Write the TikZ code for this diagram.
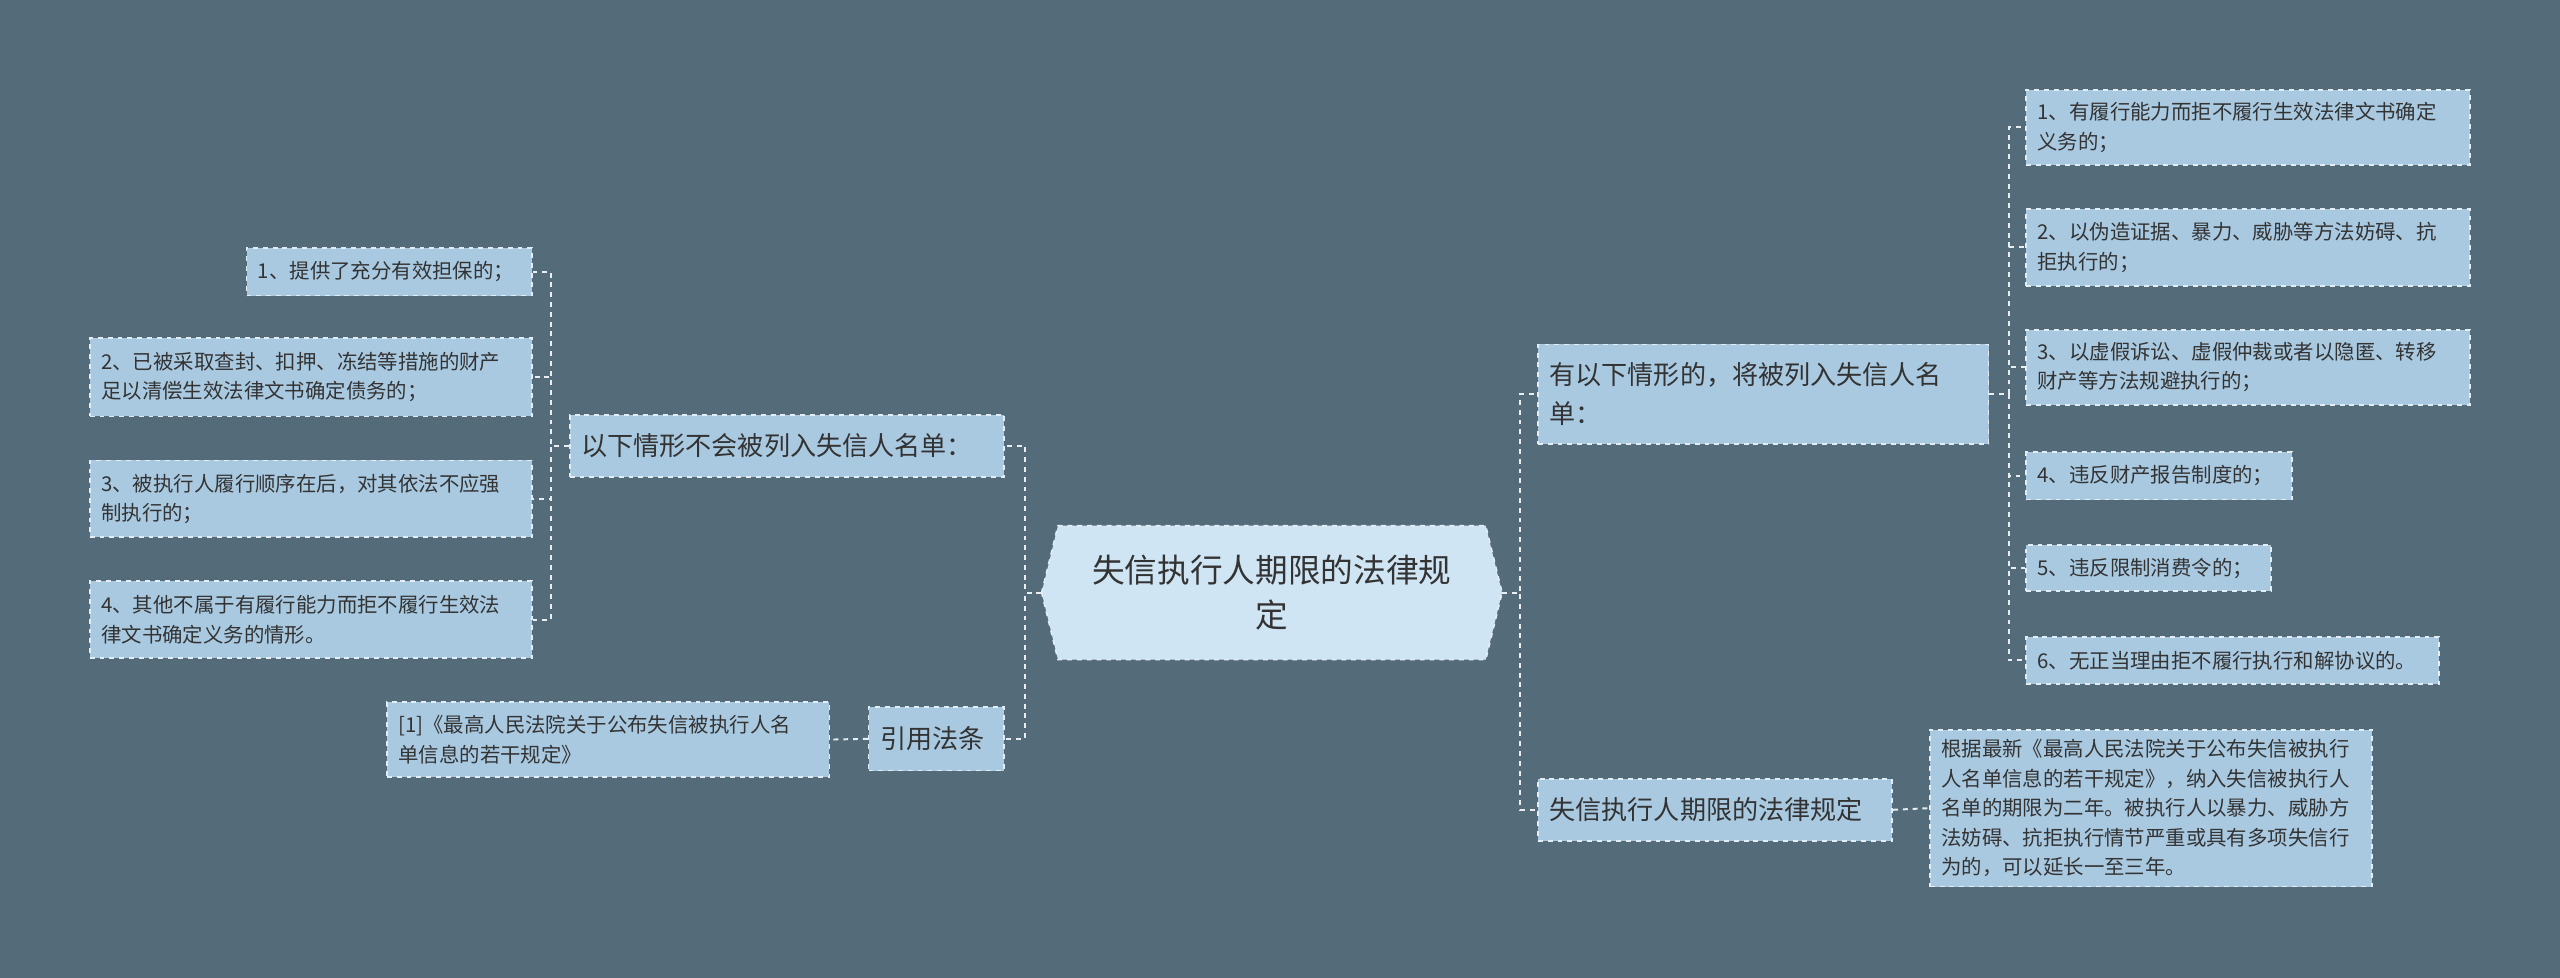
\documentclass[tikz,border=0pt]{standalone}
\usepackage{fontspec}
\setmainfont{Noto Sans CJK SC}
\usetikzlibrary{calc}
\definecolor{bg}{HTML}{546B7A}
\definecolor{leaffill}{HTML}{A9C9E1}
\definecolor{cfill}{HTML}{CFE5F3}
\definecolor{bord}{HTML}{E2EDF5}
\definecolor{txt}{HTML}{333333}
\definecolor{lnk}{HTML}{E8EEF2}
\tikzset{
 box/.style={fill=leaffill,draw=bord,dashed,line width=1pt,text=txt,inner xsep=7pt,inner ysep=3pt,align=left,font=\fontsize{12.5}{18}\selectfont},
 br/.style={box,font=\fontsize{16}{24}\selectfont},
 lk/.style={draw=lnk,dashed,line width=1.2pt},
}
\newcommand{\bx}[7]{% style,name,x1,y1,x2,y2,text
 \node[#1,minimum width=#5-#3,minimum height=#6-#4,text width=#5-#3-14] (#2) at ({(#3+#5)/2},{-(#4+#6)/2}) {#7};}
\begin{document}
\begin{tikzpicture}[x=1pt,y=1pt]
\fill[bg] (0,0) rectangle (1568,-599);
\useasboundingbox (0,0) rectangle (1568,-599);
% center
\fill[cfill] (638,-363) -- (648,-322) -- (910,-322) -- (920,-363) -- (910,-404) -- (648,-404) -- cycle;
\draw[draw=bord,dashed,line width=1pt] (638,-363) -- (648,-322) -- (910,-322) -- (920,-363) -- (910,-404) -- (648,-404) -- cycle;
\node[text=txt,align=center,font=\fontsize{20}{28}\selectfont,text width=250pt,minimum width=282pt,minimum height=82pt] (c) at (779,-363) {失信执行人期限的法律规\\定};
% left
\bx{br}{lb1}{349}{254}{615}{292}{以下情形不会被列入失信人名单：}
\bx{box}{l1}{151}{152}{326}{181}{1、提供了充分有效担保的；}
\bx{box}{l2}{55}{207}{326}{255}{2、已被采取查封、扣押、冻结等措施的财产\\足以清偿生效法律文书确定债务的；}
\bx{box}{l3}{55}{282}{326}{329}{3、被执行人履行顺序在后，对其依法不应强\\制执行的；}
\bx{box}{l4}{55}{356}{326}{403}{4、其他不属于有履行能力而拒不履行生效法\\律文书确定义务的情形。}
\bx{br}{lb2}{532}{433}{615}{472}{引用法条}
\bx{box}{l5}{237}{430}{508}{476}{[1]《最高人民法院关于公布失信被执行人名\\单信息的若干规定》}
% right
\bx{br}{rb1}{942}{211}{1218}{272}{有以下情形的，将被列入失信人名\\单：}
\bx{box}{r1}{1241}{55}{1513}{101}{1、有履行能力而拒不履行生效法律文书确定\\义务的；}
\bx{box}{r2}{1241}{128}{1513}{175}{2、以伪造证据、暴力、威胁等方法妨碍、抗\\拒执行的；}
\bx{box}{r3}{1241}{202}{1513}{248}{3、以虚假诉讼、虚假仲裁或者以隐匿、转移\\财产等方法规避执行的；}
\bx{box}{r4}{1241}{277}{1404}{306}{4、违反财产报告制度的；}
\bx{box}{r5}{1241}{334}{1391}{362}{5、违反限制消费令的；}
\bx{box}{r6}{1241}{390}{1494}{419}{6、无正当理由拒不履行执行和解协议的。}
\bx{br}{rb2}{942}{477}{1159}{515}{失信执行人期限的法律规定}
\bx{box}{r7}{1182}{447}{1453}{543}{根据最新《最高人民法院关于公布失信被执行\\人名单信息的若干规定》，纳入失信被执行人\\名单的期限为二年。被执行人以暴力、威胁方\\法妨碍、抗拒执行情节严重或具有多项失信行\\为的，可以延长一至三年。}
% links
\foreach \t in {lb1,lb2} \draw[lk] (c.west) -- ++(-10,0) |- (\t.east);
\foreach \t in {l1,l2,l3,l4} \draw[lk] (lb1.west) -- ++(-11,0) |- (\t.east);
\draw[lk] (lb2.west) -- (l5.east);
\foreach \t in {rb1,rb2} \draw[lk] (c.east) -- ++(11,0) |- (\t.west);
\foreach \t in {r1,r2,r3,r4,r5,r6} \draw[lk] (rb1.east) -- ++(12,0) |- (\t.west);
\draw[lk] (rb2.east) -- (r7.west);
\end{tikzpicture}
\end{document}
